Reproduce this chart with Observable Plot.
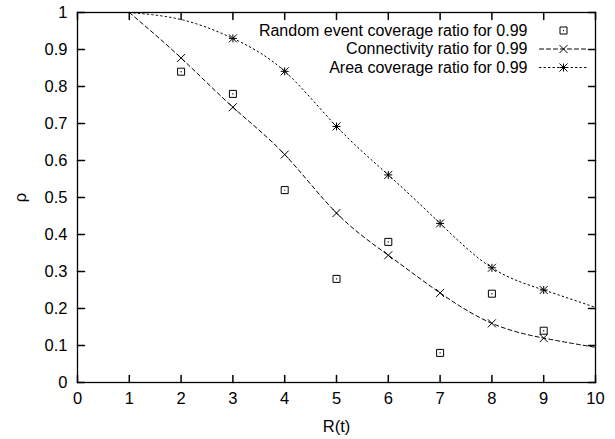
<!DOCTYPE html>
<html><head><meta charset="utf-8">
<script src="https://cdn.jsdelivr.net/npm/d3@7"></script>
<script src="https://cdn.jsdelivr.net/npm/@observablehq/plot@0.6"></script>
<style>body{margin:0;background:#fff;}</style>
</head><body><div id="chart"></div>
<script>
// ---- data ----
const curveX = [1, 2, 3, 4, 5, 6, 7, 8, 9, 10];
const connectivity = [1.0, 0.877, 0.744, 0.616, 0.458, 0.344, 0.242, 0.160, 0.120, 0.095];
const areaCoverage = [1.0, 0.981, 0.93, 0.841, 0.692, 0.561, 0.43, 0.31, 0.25, 0.203];
const connMarkerX = [2, 3, 4, 5, 6, 7, 8, 9];
const areaMarkerX = [3, 4, 5, 6, 7, 8, 9];
const eventX = [2, 3, 4, 5, 6, 7, 8, 9];
const eventCoverage = [0.84, 0.78, 0.52, 0.28, 0.38, 0.08, 0.24, 0.14];
const xTicks = [0, 1, 2, 3, 4, 5, 6, 7, 8, 9, 10];
const xTickLabels = ["0", "1", "2", "3", "4", "5", "6", "7", "8", "9", "10"];
const yTicks = [0, 0.1, 0.2, 0.3, 0.4, 0.5, 0.6, 0.7, 0.8, 0.9, 1];
const yTickLabels = ["0", "0.1", "0.2", "0.3", "0.4", "0.5", "0.6", "0.7", "0.8", "0.9", "1"];
const legendLabels = ["Random event coverage ratio for 0.99", "Connectivity ratio for 0.99", "Area coverage ratio for 0.99"];
const xLabel = "R(t)";
const yLabel = "ρ";

// ---- tables built from the arrays ----
const connData = curveX.map((x, i) => ({x, y: connectivity[i]}));
const areaData = curveX.map((x, i) => ({x, y: areaCoverage[i]}));
const connMarks = connData.filter(d => connMarkerX.includes(d.x));
const areaMarks = areaData.filter(d => areaMarkerX.includes(d.x));
const eventData = eventX.map((x, i) => ({x, y: eventCoverage[i]}));

// ---- custom shapes ----
const tickShape = {draw(c, l) { c.moveTo(0, 0); c.lineTo(0, -l); }};
const timesSym = {draw(c, size) { const h = Math.sqrt(size / Math.PI);
  c.moveTo(-h, -h); c.lineTo(h, h); c.moveTo(h, -h); c.lineTo(-h, h); }};
const starSym = {draw(c, size) { const h = Math.sqrt(size / Math.PI);
  c.moveTo(-h, -h); c.lineTo(h, h); c.moveTo(h, -h); c.lineTo(-h, h);
  c.moveTo(-h, 0); c.lineTo(h, 0); c.moveTo(0, -h); c.lineTo(0, h); }};
const squareSym = {draw(c, size) { const h = Math.sqrt(size / Math.PI);
  c.moveTo(-h, -h); c.lineTo(h, -h); c.lineTo(h, h); c.lineTo(-h, h); c.closePath(); }};

const ink = "#000";
const connDash = "4,3";
const areaDash = "1.5,3";
const legendDy = [18, 36.5, 55];

const legendMarks = [];
legendLabels.forEach((label, i) => {
  legendMarks.push(Plot.text([label], {frameAnchor: "top-right", text: d => d, textAnchor: "end",
    lineAnchor: "middle", dx: -68, dy: legendDy[i], fill: ink, fontSize: 16}));
});
legendMarks.push(
  Plot.dot([0], {frameAnchor: "top-right", dx: -32, dy: legendDy[0], symbol: squareSym, r: 3.5, stroke: ink, strokeWidth: 1}),
  Plot.dot([0], {frameAnchor: "top-right", dx: -32, dy: legendDy[0], r: 0.7, fill: ink}),
  Plot.vector([0], {frameAnchor: "top-right", dx: -56, dy: legendDy[1], rotate: 90, length: 48, anchor: "start",
    shape: tickShape, stroke: ink, strokeWidth: 1, strokeDasharray: connDash}),
  Plot.dot([0], {frameAnchor: "top-right", dx: -32, dy: legendDy[1], symbol: timesSym, r: 4, stroke: ink, strokeWidth: 1}),
  Plot.vector([0], {frameAnchor: "top-right", dx: -56, dy: legendDy[2], rotate: 90, length: 48, anchor: "start",
    shape: tickShape, stroke: ink, strokeWidth: 1, strokeDasharray: areaDash}),
  Plot.dot([0], {frameAnchor: "top-right", dx: -32, dy: legendDy[2], symbol: starSym, r: 4, stroke: ink, strokeWidth: 1})
);

const chart = Plot.plot({
  width: 615,
  height: 439,
  marginTop: 12,
  marginRight: 20,
  marginBottom: 57,
  marginLeft: 77,
  style: {fontFamily: "'Liberation Sans', Arial, sans-serif", fontSize: "16.5px", background: "#fff", color: ink},
  x: {domain: [0, 10]},
  y: {domain: [0, 1]},
  marks: [
    Plot.axisX(xTicks, {anchor: "bottom", tickSize: 0, tickPadding: 10, tickFormat: d => xTickLabels[xTicks.indexOf(d)],
      label: xLabel, labelAnchor: "center", labelOffset: 49, labelArrow: "none"}),
    Plot.axisY(yTicks, {anchor: "left", tickSize: 0, tickPadding: 10, tickFormat: d => yTickLabels[yTicks.indexOf(d)],
      label: yLabel, labelAnchor: "center", labelOffset: 63, labelArrow: "none"}),
    Plot.vector(xTicks, {x: d => d, frameAnchor: "bottom", length: 7, rotate: 0, anchor: "start", shape: tickShape, stroke: ink}),
    Plot.vector(xTicks, {x: d => d, frameAnchor: "top", length: 7, rotate: 180, anchor: "start", shape: tickShape, stroke: ink}),
    Plot.vector(yTicks, {y: d => d, frameAnchor: "left", length: 7, rotate: 90, anchor: "start", shape: tickShape, stroke: ink}),
    Plot.vector(yTicks, {y: d => d, frameAnchor: "right", length: 7, rotate: -90, anchor: "start", shape: tickShape, stroke: ink}),
    Plot.line(connData, {x: "x", y: "y", curve: "natural", stroke: ink, strokeWidth: 1, strokeDasharray: connDash}),
    Plot.line(areaData, {x: "x", y: "y", curve: "natural", stroke: ink, strokeWidth: 1, strokeDasharray: areaDash}),
    Plot.dot(connMarks, {x: "x", y: "y", symbol: timesSym, r: 4, stroke: ink, strokeWidth: 1}),
    Plot.dot(areaMarks, {x: "x", y: "y", symbol: starSym, r: 4, stroke: ink, strokeWidth: 1}),
    Plot.dot(eventData, {x: "x", y: "y", symbol: squareSym, r: 3.5, stroke: ink, strokeWidth: 1}),
    Plot.dot(eventData, {x: "x", y: "y", r: 0.7, fill: ink}),
    ...legendMarks,
    Plot.frame({stroke: ink, strokeWidth: 1.3})
  ]
});
document.getElementById("chart").appendChild(chart);
</script>
</body></html>
